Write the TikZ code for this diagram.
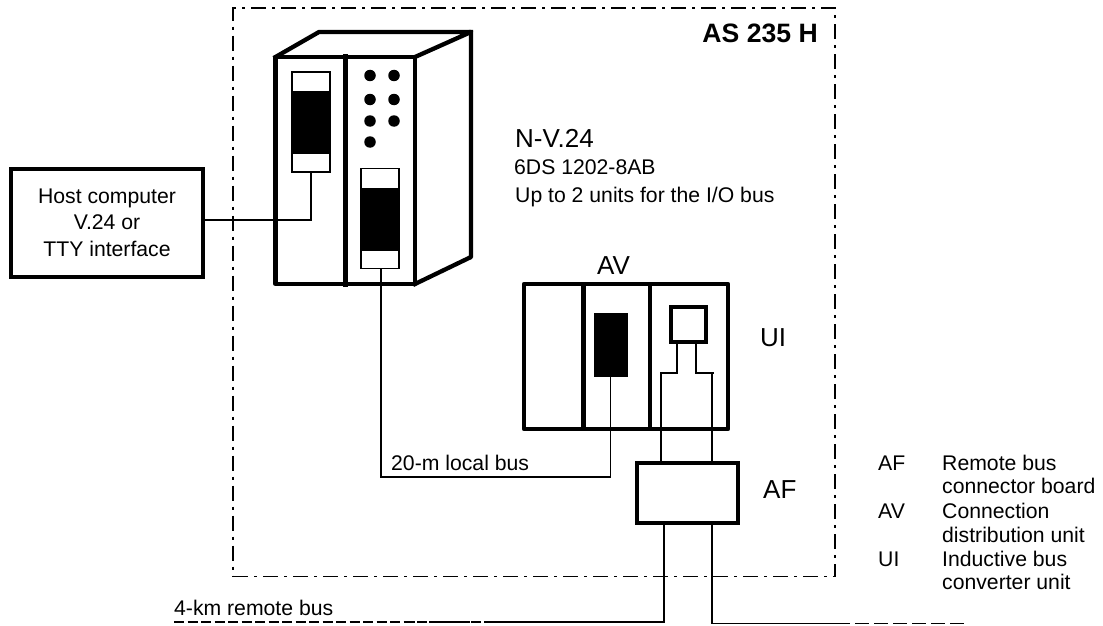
\documentclass[tikz,border=0pt]{standalone}
\usepackage{fontspec}
\setmainfont{Liberation Sans}
\tikzset{
  heavy/.style={line width=4.3pt,line join=round,line cap=rect},
  wire/.style={line width=1.3pt},
  slotbox/.style={draw,line width=1.3pt,fill=white,minimum width=38pt,minimum height=100pt,inner sep=0pt},
  blackbar/.style={fill=black,draw=black,line width=.6pt,minimum width=38pt,minimum height=62pt,inner sep=0pt},
  led/.style={circle,fill=black,minimum size=11.5pt,inner sep=0pt},
  lab/.style={anchor=base west,inner sep=0pt,font=\fontsize{21.2}{21.2}\selectfont},
  biglab/.style={anchor=base west,inner sep=0pt,font=\fontsize{26}{26}\selectfont},
}
\begin{document}
\begin{tikzpicture}[x=1pt,y=-1pt]
\useasboundingbox (0,0) rectangle (1103,626);
% outer frame
\node (frame) [draw,line width=1.6pt,dash pattern=on 15pt off 6pt on 3pt off 6pt,minimum width=602pt,minimum height=568.5pt,inner sep=0pt] at (534,292.3) {};
\node[anchor=base east,inner sep=0pt,font=\fontsize{26.6}{26.6}\selectfont\bfseries] (title) at (818,43) {AS 235 H};
% cabinet
\draw[heavy] (275.5,57) rectangle (415,284);
\draw[heavy] (275.5,57) -- (319,32) -- (471,32) -- (415,57);
\draw[heavy] (471,32) -- (471,257) -- (415,284);
\draw[line width=5pt,line cap=rect] (345.5,57) -- (345.5,284);
\node (slotl) [slotbox] at (311,122) {};
\node (barl) [blackbar] at (311,122) {};
\node (slotr) [slotbox] at (380,218.5) {};
\node (barr) [blackbar] at (380,219) {};
\foreach \px/\py in {370/75.5,394/75.5,370/99.5,394/99.5,370/121,394/121,370/142}
  \node[led] at (\px,\py) {};
% host
\node (host) [draw,line width=4pt,minimum width=192pt,minimum height=108pt,inner sep=0pt,align=center,font=\fontsize{21.2}{26.5}\selectfont] at (107,223) {\raisebox{1pt}{Host computer}\\\raisebox{1pt}{V.24 or}\\\raisebox{1pt}{TTY interface}};
\coordinate (hostjoin) at (311,220);
\draw[wire] (host.east |- hostjoin) -- (hostjoin) -- (slotl.south);
% AV rack
\draw[heavy] (524,284) rectangle (728,429);
\draw[heavy] (583.5,284) -- (583.5,429);
\draw[heavy] (650,284) -- (650,429);
\node (barav) [blackbar,minimum width=33pt,minimum height=63pt] at (610.5,344.5) {};
\node (ui) [draw,line width=4pt,minimum width=35pt,minimum height=35pt,inner sep=0pt] at (688.5,324.5) {};
\node (af) [draw,line width=4pt,minimum width=101pt,minimum height=60pt,inner sep=0pt] at (687.5,493) {};
% local bus
\coordinate (localc) at (381,477);
\coordinate (localr) at (610.5,477);
\draw[wire] (slotr.south -| localc) -- (localc) -- (localr) -- (barav.south);
\node[lab] (locallab) at (391,470) {20-m local bus};
% converter wires
\coordinate (uil) at (677,373);
\coordinate (uir) at (696,373);
\coordinate (afl) at (661,373);
\coordinate (afr) at (712,373);
\draw[wire] (ui.south -| uil) -- (uil) -- (afl) -- (afl |- af.north);
\draw[wire] (ui.south -| uir) -- (uir) -- (714,373);
\draw[wire] (afr) -- (afr |- af.north);
% remote bus
\coordinate (busl) at (664,622);
\coordinate (busr) at (712,623.5);
\coordinate (busle) at (174,622);
\coordinate (busre) at (964,623.5);
\coordinate (busm) at (535,622);
\coordinate (busn) at (850,623.5);
\draw[wire] (busl |- af.south) -- (busl) -- (busm);
\draw[wire,dash pattern=on 10pt off 3.5pt] (busle) -- (busm);
\draw[wire,dash pattern=on 8pt off 3pt] (407,622) -- (busm);
\draw[wire] (busr |- af.south) -- (busr) -- (busn);
\draw[wire,dash pattern=on 0pt off 5pt on 14pt off 0pt] (busn) -- (busre);
\node[lab] (remotelab) at (174,615) {4-km remote bus};
% labels
\node[biglab] (nv) at (515,147) {N-V.24};
\node[lab] (nvb) at (514,174) {6DS 1202-8AB};
\node[lab] (nvc) at (515,202) {Up to 2 units for the I/O bus};
\node[biglab] (avlab) at (597,274) {AV};
\node[biglab] (uilab) at (760,346) {UI};
\node[biglab] (aflab) at (763,498) {AF};
% legend
\foreach \py/\ka/\kb in {470/AF/Remote bus,493.5/{}/connector board,518/AV/Connection,542/{}/distribution unit,566/UI/Inductive bus,589.5/{}/converter unit}{
  \node[lab] at (878,\py) {\ka};
  \node[lab] at (942,\py) {\kb};
}
\end{tikzpicture}
\end{document}
